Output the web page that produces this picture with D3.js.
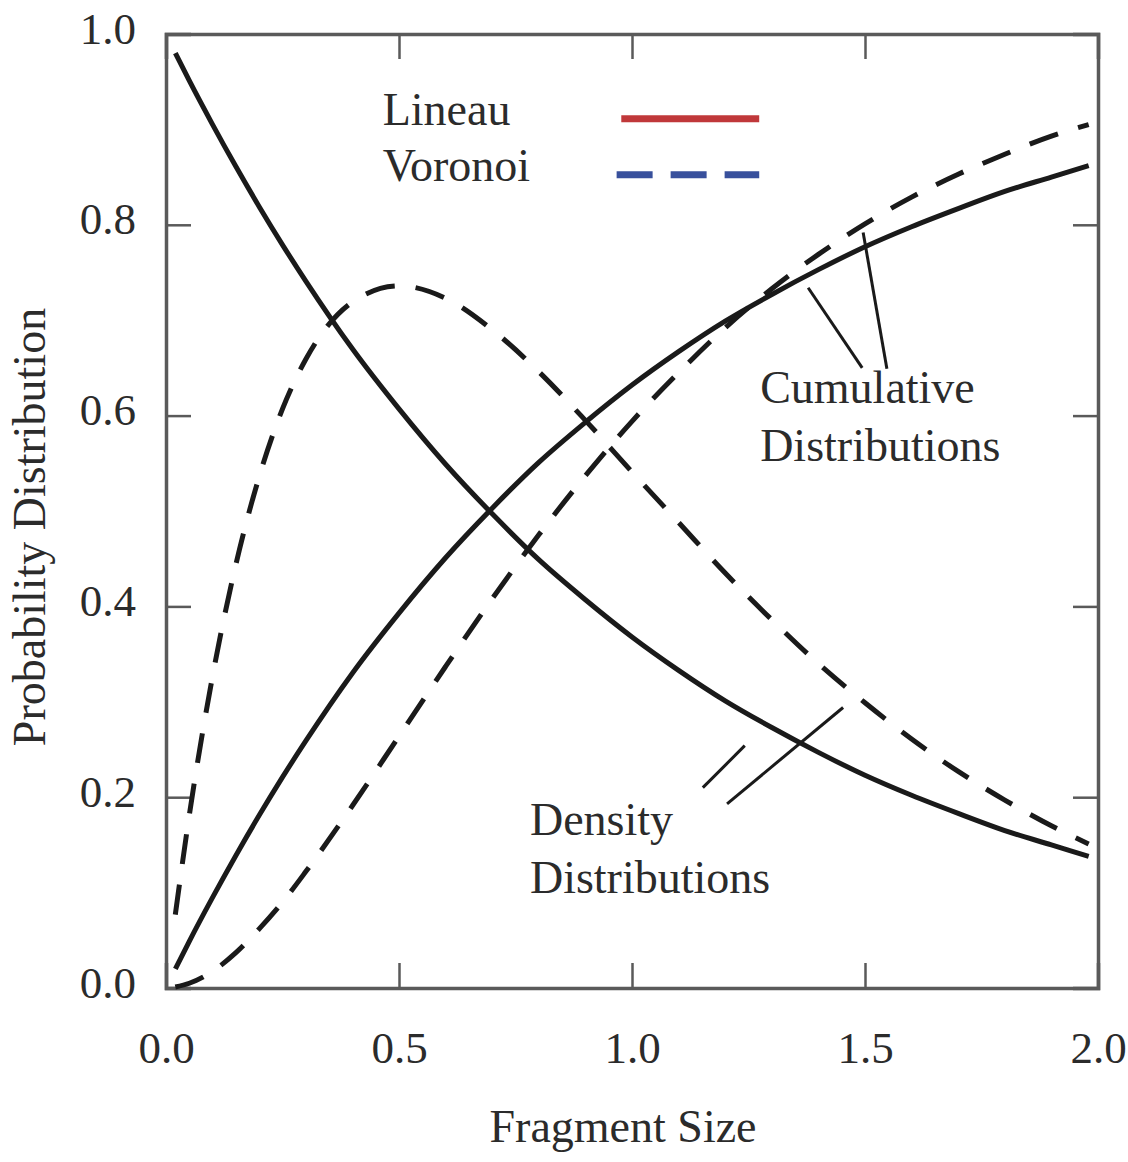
<!DOCTYPE html>
<html>
<head>
<meta charset="utf-8">
<script src="https://cdn.jsdelivr.net/npm/d3@7"></script>
<style>
    body { margin: 0; background: #fff; }
    text { font-family: "Liberation Serif", "Times New Roman", serif; fill: #2b2b2b; }
</style>
</head>
<body>
<div id="chart"></div>
<script>
// Fragment size distributions: Lineau vs Voronoi
const fragmentSizes = [0.02, 0.05, 0.1, 0.15, 0.2, 0.25, 0.3, 0.4, 0.5, 0.6, 0.7, 0.8, 0.9, 1.0,
    1.1, 1.2, 1.3, 1.4, 1.5, 1.6, 1.7, 1.8, 1.9, 1.98];

const lineauDensity = [0.98, 0.951, 0.905, 0.861, 0.819, 0.779, 0.741, 0.670, 0.607, 0.549, 0.497,
    0.449, 0.407, 0.368, 0.333, 0.301, 0.273, 0.247, 0.223, 0.202, 0.183, 0.165, 0.150, 0.138];
const lineauCumulative = [0.02, 0.049, 0.095, 0.139, 0.181, 0.221, 0.259, 0.330, 0.393, 0.451, 0.503,
    0.551, 0.593, 0.632, 0.667, 0.699, 0.727, 0.753, 0.777, 0.798, 0.817, 0.835, 0.850, 0.862];
const voronoiDensity = [0.077, 0.181, 0.327, 0.444, 0.536, 0.607, 0.659, 0.719, 0.736, 0.723, 0.690,
    0.646, 0.595, 0.541, 0.488, 0.435, 0.386, 0.340, 0.299, 0.261, 0.227, 0.197, 0.170, 0.151];
const voronoiCumulative = [0.001, 0.005, 0.0175, 0.037, 0.062, 0.090, 0.122, 0.191, 0.264, 0.337, 0.408,
    0.475, 0.537, 0.594, 0.645, 0.692, 0.733, 0.769, 0.801, 0.829, 0.853, 0.874, 0.893, 0.905];

const xTicks = [0, 0.5, 1.0, 1.5, 2.0];
const yTicks = [0, 0.2, 0.4, 0.6, 0.8, 1.0];

const legendItems = ["Lineau", "Voronoi"];
const legendColors = ["#c0383a", "#38509c"];

// leader lines for the notes, in data units
const cumulativeLeaders = [[[1.378, 0.734], [1.494, 0.650]], [[1.496, 0.792], [1.547, 0.649]]];
const densityLeaders = [[[1.152, 0.210], [1.242, 0.254]], [[1.204, 0.193], [1.453, 0.294]]];

{
    const margin = { top: 34, right: 30, bottom: 174, left: 166 };
    const totalWidth = 1128, totalHeight = 1162;
    const width = totalWidth - margin.left - margin.right;
    const height = totalHeight - margin.top - margin.bottom;

    const svg = d3.select("#chart")
        .append("svg")
        .attr("width", totalWidth)
        .attr("height", totalHeight)
        .append("g")
        .attr("transform", `translate(${margin.left},${margin.top})`);

    const x = d3.scaleLinear().domain([0, 2]).range([0, width]);
    const y = d3.scaleLinear().domain([0, 1]).range([height, 0]);

    const tickLen = 25;
    const frameColor = "#5a5a5a";

    // axes with inward ticks
    const bottom = svg.append("g").attr("transform", `translate(0,${height})`)
        .call(d3.axisBottom(x).tickValues(xTicks).tickSize(-tickLen).tickPadding(75).tickFormat(d3.format(".1f")));
    const top = svg.append("g")
        .call(d3.axisTop(x).tickValues(xTicks).tickSize(-tickLen).tickFormat(""));
    const left = svg.append("g")
        .call(d3.axisLeft(y).tickValues(yTicks).tickSize(-tickLen).tickPadding(30).tickFormat(d3.format(".1f")));
    const right = svg.append("g").attr("transform", `translate(${width},0)`)
        .call(d3.axisRight(y).tickValues(yTicks).tickSize(-tickLen).tickFormat(""));

    [bottom, top, left, right].forEach(g => {
        g.select(".domain").attr("stroke", frameColor).attr("stroke-width", 3.5);
        g.selectAll(".tick line").attr("stroke", frameColor).attr("stroke-width", 2.5);
        g.selectAll(".tick text").style("font-size", "45px").attr("fill", "#333");
    });
    left.selectAll(".tick text").attr("dy", "0.2em");
    bottom.selectAll(".tick text").attr("dy", "0em");

    // axis titles
    svg.append("text")
        .attr("x", x(1) - 9)
        .attr("y", height + 154)
        .attr("text-anchor", "middle")
        .style("font-size", "46px")
        .text("Fragment Size");

    svg.append("text")
        .attr("transform", `translate(${-121},${y(0.5) + 16}) rotate(-90)`)
        .attr("text-anchor", "middle")
        .style("font-size", "46px")
        .text("Probability Distribution");

    // curves
    const curves = [
        { values: lineauDensity, dash: null },
        { values: lineauCumulative, dash: null },
        { values: voronoiDensity, dash: "30,21" },
        { values: voronoiCumulative, dash: "30,21" }
    ];

    const lineGenerator = d3.line()
        .x(d => x(d[0]))
        .y(d => y(d[1]))
        .curve(d3.curveMonotoneX);

    svg.selectAll(".curve")
        .data(curves)
        .enter()
        .append("path")
        .attr("class", "curve")
        .attr("fill", "none")
        .attr("stroke", "#1a1a1a")
        .attr("stroke-width", 5)
        .attr("stroke-dasharray", d => d.dash)
        .attr("d", d => lineGenerator(fragmentSizes.map((s, i) => [s, d.values[i]])));

    // legend
    const legend = svg.selectAll(".legend")
        .data(legendItems)
        .enter()
        .append("g")
        .attr("class", "legend")
        .attr("transform", (d, i) => `translate(${x(0.465)}, ${y(0.905) + i * 56})`);

    legend.append("text")
        .attr("x", 0).attr("y", 0)
        .style("font-size", "46px")
        .text(d => d);

    legend.append("line")
        .attr("x1", (d, i) => i === 0 ? x(0.977) - x(0.465) : x(0.967) - x(0.465))
        .attr("x2", x(1.273) - x(0.465))
        .attr("y1", -6).attr("y2", -6)
        .attr("stroke", (d, i) => legendColors[i])
        .attr("stroke-width", 7)
        .attr("stroke-dasharray", (d, i) => i === 0 ? null : "36,18");

    // notes
    const notes = [
        { lines: ["Cumulative", "Distributions"], at: [1.275, 0.613], leaders: cumulativeLeaders },
        { lines: ["Density", "Distributions"], at: [0.781, 0.160], leaders: densityLeaders }
    ];

    notes.forEach(n => {
        const t = svg.append("text")
            .attr("x", x(n.at[0]))
            .attr("y", y(n.at[1]))
            .style("font-size", "46px");
        t.selectAll("tspan")
            .data(n.lines)
            .enter()
            .append("tspan")
            .attr("x", x(n.at[0]))
            .attr("dy", (d, i) => i === 0 ? 0 : 58)
            .text(d => d);

        svg.selectAll(null)
            .data(n.leaders)
            .enter()
            .append("line")
            .attr("x1", d => x(d[0][0])).attr("y1", d => y(d[0][1]))
            .attr("x2", d => x(d[1][0])).attr("y2", d => y(d[1][1]))
            .attr("stroke", "#1a1a1a")
            .attr("stroke-width", 3);
    });
}
</script>
</body>
</html>
